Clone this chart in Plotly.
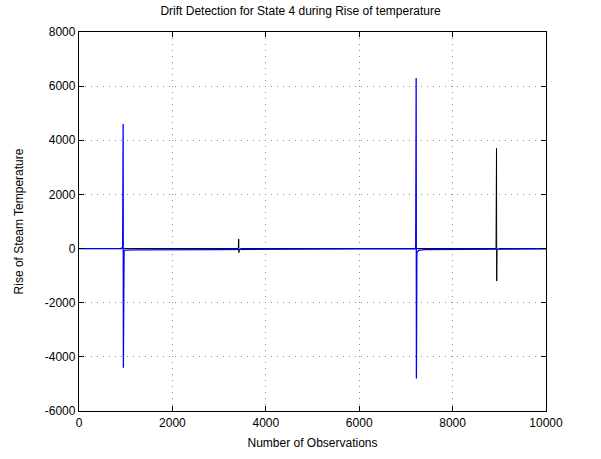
import plotly.graph_objects as go

# Raw signal (black)
raw_x = [0, 3380, 3410, 3420, 3425, 3430, 3460, 8900, 8930, 8940, 8945, 8950, 8990, 10000]
raw_y = [0, 0, 0, 350, -150, -40, 0, 0, 0, 3700, -1200, -60, 0, 0]

# Detection signal (blue)
det_x = [0, 900, 935, 945, 950, 955, 965, 1000, 1200, 3000, 7150, 7200, 7210, 7220, 7225, 7235, 7270, 7400, 10000]
det_y = [0, 0, 50, 4600, -4400, -150, -80, -60, -50, -40, -20, 0, 60, 6300, -4800, -150, -70, -40, -10]

x_ticks = [0, 2000, 4000, 6000, 8000, 10000]
y_ticks = [-6000, -4000, -2000, 0, 2000, 4000, 6000, 8000]

fig = go.Figure()
fig.add_trace(go.Scatter(x=raw_x, y=raw_y, mode="lines",
                         line=dict(color="black", width=1), showlegend=False))
fig.add_trace(go.Scatter(x=det_x, y=det_y, mode="lines",
                         line=dict(color="#0000ff", width=1.3), showlegend=False))

font = dict(family="Liberation Sans, Arial, sans-serif", size=12, color="#000000")
axis_common = dict(showline=True, linecolor="black", linewidth=1.3, mirror="ticks",
                   ticks="inside", ticklen=5, tickcolor="black",
                   showgrid=True, gridcolor="#8c8c8c", griddash="1px,5px", gridwidth=1,
                   zeroline=False, tickfont=font)

fig.update_layout(
    width=601, height=459,
    margin=dict(l=79, r=55, t=32, b=48),
    paper_bgcolor="white", plot_bgcolor="white",
    title=dict(text="Drift Detection for State 4 during Rise of temperature",
               x=0.5, xanchor="center", y=0.985, yanchor="top", font=font),
    xaxis=dict(range=[0, 10000], tickvals=x_ticks, ticktext=[str(v) for v in x_ticks],
               title=dict(text="Number of Observations", font=font, standoff=10),
               **axis_common),
    yaxis=dict(range=[-6000, 8000], tickvals=y_ticks,
               ticktext=[str(v) for v in y_ticks],
               title=dict(text="Rise of Steam Temperature", font=font, standoff=18),
               **axis_common),
    font=font,
)

fig.write_html("out.html")
